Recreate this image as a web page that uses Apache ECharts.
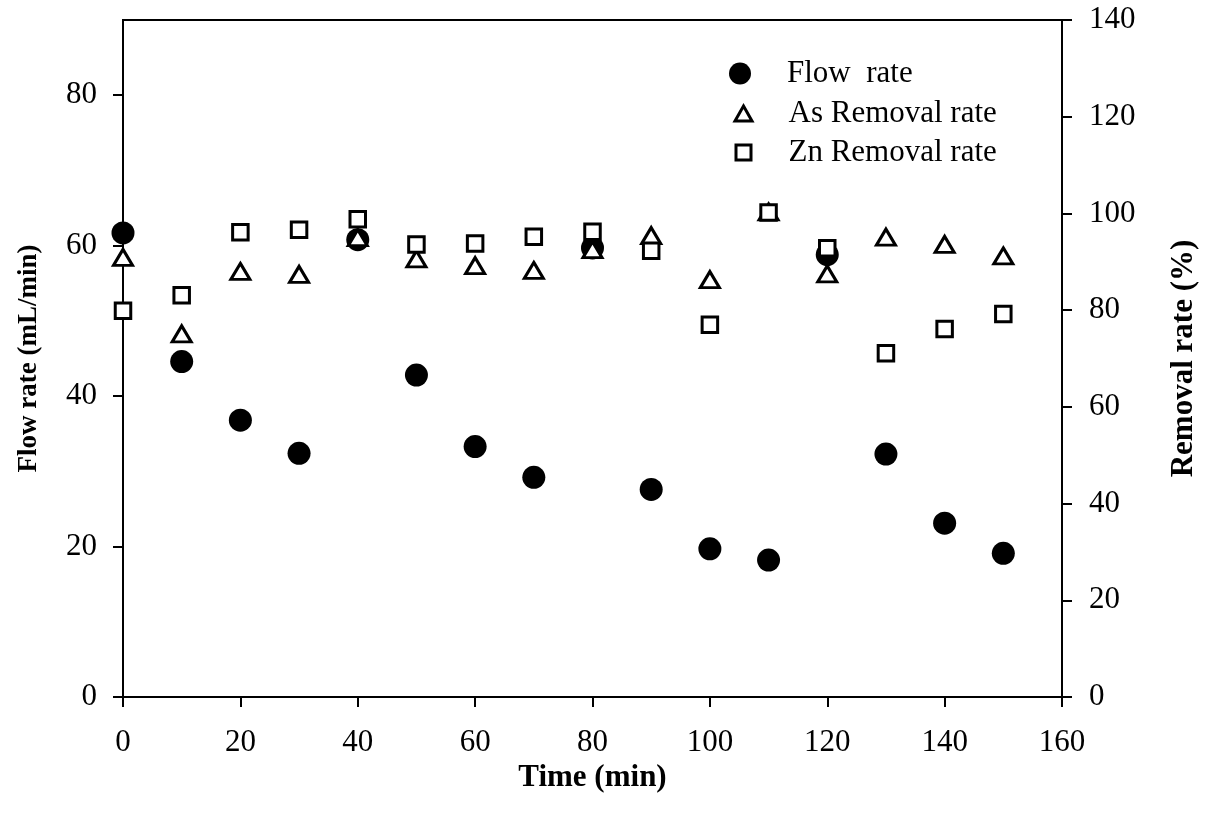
<!DOCTYPE html>
<html>
<head>
<meta charset="utf-8">
<script src="https://cdn.jsdelivr.net/npm/echarts@6/dist/echarts.min.js"></script>
<style>
  html, body { margin: 0; padding: 0; background: #fff; }
  #chart { width: 1207px; height: 822px; }
</style>
</head>
<body>
<div id="chart"></div>
<script>
// Sampling times (min)
const timeMin = [0, 10, 20, 30, 40, 50, 60, 70, 80, 90, 100, 110, 120, 130, 140, 150];
// Flow rate (mL/min), left axis
const flowRate = [61.7, 44.6, 36.8, 32.4, 60.8, 42.8, 33.3, 29.2, 59.7, 27.6, 19.7, 18.2, 58.8, 32.3, 23.1, 19.1];
// As removal rate (%), right axis
const asRemoval = [90.9, 75.1, 88.0, 87.4, 95.0, 90.6, 89.2, 88.2, 92.5, 95.4, 86.3, 100.3, 87.5, 95.1, 93.6, 91.2];
// Zn removal rate (%), right axis
const znRemoval = [79.9, 83.1, 96.1, 96.6, 98.8, 93.6, 93.8, 95.2, 96.2, 92.3, 77.0, 100.2, 92.8, 71.1, 76.1, 79.2];
// Tick values
const leftTicks = [0, 20, 40, 60, 80];

const FONT = "'Liberation Serif', 'Times New Roman', serif";
const pairs = ys => timeMin.map((t, i) => [t, ys[i]]);

const axisLine = { show: true, lineStyle: { color: '#000', width: 2 } };
const axisTick = { show: true, inside: false, length: 10, lineStyle: { color: '#000', width: 2 } };
const tickFont = { fontFamily: FONT, fontSize: 31, color: '#000' };
const titleFont = size => ({ fontFamily: FONT, fontSize: size, fontWeight: 'bold', color: '#000' });
const legendText = { fontFamily: FONT, fontSize: 31, color: '#000' };

const chart = echarts.init(document.getElementById('chart'), null, { renderer: 'canvas' });
chart.setOption({
  animation: false,
  backgroundColor: '#fff',
  grid: { left: 123, right: 144, top: 20, bottom: 125, show: true, borderColor: '#000', borderWidth: 2, backgroundColor: 'transparent' },
  xAxis: {
    type: 'value', min: 0, max: 160, interval: 20,
    axisLine, axisTick, splitLine: { show: false },
    name: 'Time (min)', nameLocation: 'middle', nameGap: 62, nameTextStyle: titleFont(31),
    axisLabel: Object.assign({ margin: 30 }, tickFont)
  },
  yAxis: [
    {
      type: 'value', min: 0, max: 90, interval: 20, position: 'left',
      axisLine, splitLine: { show: false },
      axisTick: Object.assign({ customValues: leftTicks }, axisTick),
      name: 'Flow rate (mL/min)', nameLocation: 'middle', nameGap: 80, nameRotate: 90, nameTextStyle: titleFont(27),
      axisLabel: Object.assign({ margin: 26, customValues: leftTicks }, tickFont)
    },
    {
      type: 'value', min: 0, max: 140, interval: 20, position: 'right',
      axisLine, axisTick, splitLine: { show: false },
      name: 'Removal rate (%)', nameLocation: 'middle', nameGap: 106, nameRotate: 90, nameTextStyle: titleFont(31),
      axisLabel: Object.assign({ margin: 27 }, tickFont)
    }
  ],
  legend: [
    {
      data: ['Flow  rate'], orient: 'vertical', left: 729, top: 58, padding: 0,
      itemWidth: 22, itemHeight: 22, icon: 'circle',
      itemStyle: { color: '#000', borderWidth: 0, opacity: 1 },
      textStyle: Object.assign({ padding: [0, 0, 0, 31] }, legendText),
      selectedMode: false
    },
    {
      data: ['As Removal rate'], orient: 'vertical', left: 733.5, top: 98, padding: 0,
      itemWidth: 17, itemHeight: 15, icon: 'triangle',
      itemStyle: { color: '#fff', borderColor: '#000', borderWidth: 3, opacity: 1 },
      textStyle: Object.assign({ padding: [0, 0, 0, 31.5] }, legendText),
      selectedMode: false
    },
    {
      data: ['Zn Removal rate'], orient: 'vertical', left: 734.5, top: 137, padding: 0,
      itemWidth: 15, itemHeight: 15, icon: 'rect',
      itemStyle: { color: '#fff', borderColor: '#000', borderWidth: 3, opacity: 1 },
      textStyle: Object.assign({ padding: [0, 0, 0, 32.5] }, legendText),
      selectedMode: false
    }
  ],
  series: [
    {
      name: 'Flow  rate', type: 'scatter', yAxisIndex: 0,
      symbol: 'circle', symbolSize: 23,
      itemStyle: { color: '#000', borderWidth: 0, opacity: 1 },
      data: pairs(flowRate)
    },
    {
      name: 'As Removal rate', type: 'scatter', yAxisIndex: 1,
      symbol: 'triangle', symbolSize: [19, 16],
      itemStyle: { color: '#fff', borderColor: '#000', borderWidth: 3, opacity: 1 },
      data: pairs(asRemoval)
    },
    {
      name: 'Zn Removal rate', type: 'scatter', yAxisIndex: 1,
      symbol: 'rect', symbolSize: 15.5,
      itemStyle: { color: '#fff', borderColor: '#000', borderWidth: 3, opacity: 1 },
      data: pairs(znRemoval)
    }
  ]
});
</script>
</body>
</html>
